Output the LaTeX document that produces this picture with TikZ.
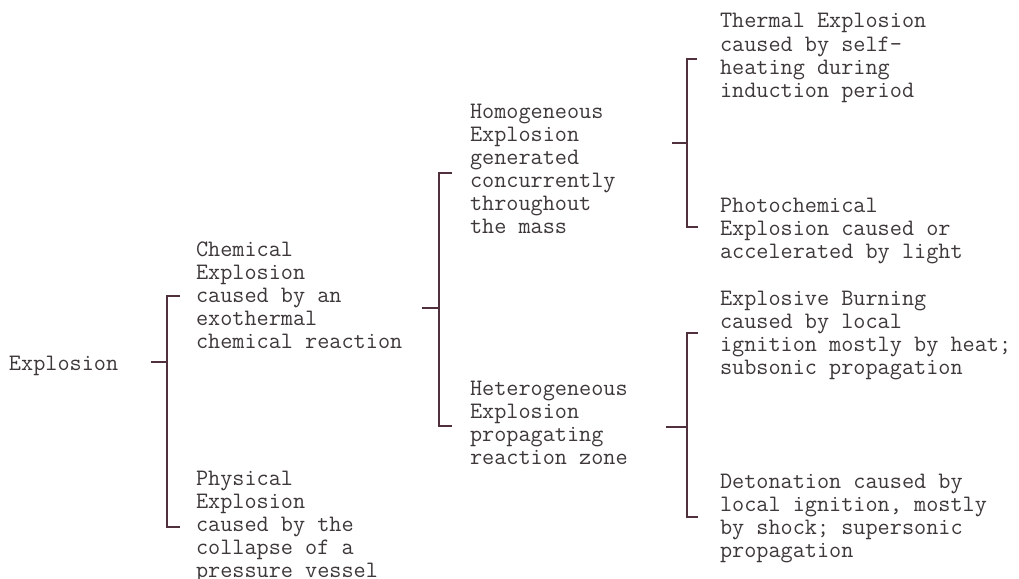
\documentclass[tikz,border=0pt]{standalone}
\usepackage{array}
\definecolor{ink}{RGB}{62,56,58}
\definecolor{rule}{RGB}{80,48,60}
\newcommand{\blk}[1]{\begin{tabular}[t]{@{}l@{}}#1\end{tabular}}
\begin{document}
\begin{tikzpicture}[x=1pt,y=-1pt,
  txt/.style={anchor=base west,inner sep=0pt,outer sep=0pt,text=ink,
    font=\ttfamily\fontsize{23.56}{23.1}\selectfont},
  brk/.style={draw=rule,line width=1.7pt,line cap=butt,line join=miter}]
\useasboundingbox (0,0) rectangle (1019,578);
\clip (0,0) rectangle (1019,578);
% text nodes
\node[txt] (root) at (9,370) {Explosion};
\node[txt] (chem) at (196,256) {\blk{Chemical\\Explosion\\caused by an\\exothermal\\chemical reaction}};
\node[txt] (phys) at (196,485) {\blk{Physical\\Explosion\\caused by the\\collapse of a\\pressure vessel}};
\node[txt] (homo) at (470,118) {\blk{Homogeneous\\Explosion\\generated\\concurrently\\throughout\\the mass}};
\node[txt] (hetero) at (470,395) {\blk{Heterogeneous\\Explosion\\propagating\\reaction zone}};
\node[txt] (therm) at (720,28) {\blk{Thermal Explosion\\caused by self-\\heating during\\induction period}};
\node[txt] (photo) at (720,212) {\blk{Photochemical\\Explosion caused or\\accelerated by light}};
\node[txt] (burn) at (720,305) {\blk{Explosive Burning\\caused by local\\ignition mostly by heat;\\subsonic propagation}};
\node[txt] (deto) at (720,488) {\blk{Detonation caused by\\local ignition, mostly\\by shock; supersonic\\propagation}};
% bracket 1: Explosion -> Chemical / Physical
\coordinate (b1m) at (151,362);
\coordinate (b1t) at (180,296);
\coordinate (b1b) at (180,527);
\draw[brk] (b1m) -- ++(15.7,0);
\draw[brk] (b1t) -- ++(-13.3,0) |- (b1b);
% bracket 2: Chemical -> Homogeneous / Heterogeneous
\coordinate (b2m) at (422,308);
\coordinate (b2t) at (452,173);
\coordinate (b2b) at (452,426);
\draw[brk] (b2m) -- ++(17,0);
\draw[brk] (b2t) -- ++(-13,0) |- (b2b);
% bracket 3: Homogeneous -> Thermal / Photochemical
\coordinate (b3m) at (672,143);
\coordinate (b3t) at (697,59);
\coordinate (b3b) at (698,227);
\draw[brk] (b3m) -- ++(14.7,0);
\draw[brk] (b3t) -- ++(-10.3,0) |- (b3b);
% bracket 4: Heterogeneous -> Burning / Detonation
\coordinate (b4m) at (666,427);
\coordinate (b4t) at (698,333);
\coordinate (b4b) at (698,517);
\draw[brk] (b4m) -- ++(20.7,0);
\draw[brk] (b4t) -- ++(-11.3,0) |- (b4b);
\end{tikzpicture}
\end{document}
